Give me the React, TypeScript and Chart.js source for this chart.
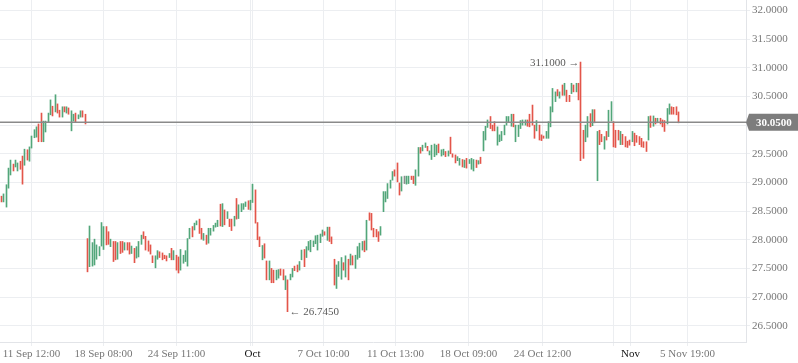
import React, { useEffect, useRef } from "react";
import { Chart, registerables } from "chart.js";

Chart.register(...registerables);

// ---- data (4h candles, high / low / direction) ----
const highs = [
  28.76, 28.80, 28.96, 29.25, 29.39, 29.32, 29.39, 29.34, 29.37, 29.46,
  29.58, 29.57, 29.62, 29.81, 29.92, 29.97, 30.02, 30.21, 30.07, 30.07,
  30.21, 30.44, 30.33, 30.53, 30.37, 30.26, 30.32, 30.32, 30.32, 30.30,
  30.25, 30.19, 30.21, 30.18, 30.25, 30.25, 30.19, 28.02, 28.24, 27.95,
  28.01, 27.91, 27.88, 28.30, 28.23, 28.23, 28.14, 28.01, 27.97, 27.97,
  27.95, 27.97, 27.97, 27.95, 27.95, 27.95, 27.89, 27.85, 27.88, 27.97,
  28.08, 28.14, 28.06, 27.98, 27.91, 27.72, 27.72, 27.81, 27.79, 27.77,
  27.73, 27.72, 27.76, 27.85, 27.81, 27.73, 27.70, 27.83, 27.73, 27.81,
  28.02, 28.20, 28.23, 28.29, 28.33, 28.36, 28.20, 28.11, 28.08, 28.20,
  28.20, 28.25, 28.29, 28.34, 28.62, 28.63, 28.52, 28.49, 28.36, 28.36,
  28.41, 28.72, 28.61, 28.63, 28.63, 28.66, 28.68, 28.69, 28.97, 28.87,
  28.30, 28.05, 27.90, 27.93, 27.63, 27.63, 27.50, 27.47, 27.47, 27.48,
  27.49, 27.48, 27.37, 27.30, 27.40, 27.50, 27.54, 27.56, 27.62, 27.82,
  27.83, 27.88, 27.97, 27.99, 27.98, 28.07, 28.08, 28.10, 28.17, 28.14,
  28.22, 28.22, 28.05, 27.66, 27.56, 27.62, 27.69, 27.60, 27.72, 27.66,
  27.75, 27.72, 27.73, 27.88, 27.94, 27.97, 27.98, 28.34, 28.47, 28.46,
  28.20, 28.18, 28.14, 28.23, 28.84, 28.84, 28.98, 29.04, 29.19, 29.22,
  29.34, 28.99, 29.10, 29.11, 29.11, 29.11, 29.11, 29.11, 29.22, 29.61,
  29.61, 29.65, 29.69, 29.63, 29.55, 29.65, 29.67, 29.65, 29.67, 29.57,
  29.58, 29.54, 29.55, 29.79, 29.50, 29.48, 29.45, 29.42, 29.40, 29.39,
  29.42, 29.40, 29.42, 29.40, 29.39, 29.38, 29.44, 29.89, 29.98, 30.09,
  30.15, 30.00, 30.06, 29.97, 29.83, 29.89, 30.00, 30.15, 30.15, 30.19,
  30.19, 30.00, 30.00, 30.08, 30.09, 30.09, 30.09, 30.19, 30.35, 30.00,
  30.08, 30.00, 29.83, 29.81, 29.89, 30.06, 30.32, 30.64, 30.58, 30.62,
  30.58, 30.70, 30.73, 30.61, 30.52, 30.73, 30.70, 30.73, 30.73, 31.10,
  29.91, 30.00, 30.15, 30.20, 30.27, 30.27, 29.89, 29.91, 29.84, 29.80,
  29.89, 30.26, 30.41, 30.06, 29.91, 29.91, 29.89, 29.84, 29.80, 29.72,
  29.74, 29.89, 29.86, 29.82, 29.80, 29.77, 29.71, 29.71, 30.15, 30.16,
  30.16, 30.12, 30.12, 30.12, 30.09, 30.08, 30.29, 30.37, 30.32, 30.31,
  30.32, 30.23,
];

const lows = [
  28.66, 28.66, 28.57, 28.90, 29.13, 29.20, 29.27, 29.20, 29.23, 28.97,
  29.30, 29.39, 29.37, 29.60, 29.78, 29.79, 29.71, 29.71, 29.71, 29.88,
  30.05, 30.18, 30.16, 30.23, 30.21, 30.14, 30.14, 30.23, 30.21, 30.19,
  29.90, 30.07, 30.05, 30.11, 30.14, 30.14, 30.02, 27.44, 27.53, 27.54,
  27.56, 27.66, 27.72, 27.89, 27.83, 27.91, 27.92, 27.88, 27.62, 27.65,
  27.66, 27.76, 27.78, 27.82, 27.82, 27.75, 27.76, 27.60, 27.68, 27.70,
  27.92, 28.02, 27.82, 27.80, 27.75, 27.60, 27.51, 27.66, 27.69, 27.65,
  27.67, 27.63, 27.69, 27.65, 27.65, 27.47, 27.42, 27.47, 27.59, 27.62,
  27.54, 28.02, 28.05, 28.17, 28.26, 28.11, 28.01, 27.99, 27.92, 27.94,
  28.08, 28.15, 28.22, 28.23, 28.24, 28.23, 28.26, 28.37, 28.23, 28.16,
  28.24, 28.36, 28.37, 28.49, 28.53, 28.58, 28.53, 28.52, 28.65, 28.29,
  28.00, 27.88, 27.65, 27.68, 27.30, 27.30, 27.25, 27.25, 27.30, 27.33,
  27.38, 27.30, 27.13, 26.745, 27.30, 27.35, 27.46, 27.44, 27.47, 27.65,
  27.53, 27.69, 27.82, 27.79, 27.88, 27.93, 27.82, 27.95, 28.06, 28.08,
  27.99, 27.97, 27.93, 27.21, 27.15, 27.36, 27.31, 27.47, 27.35, 27.30,
  27.56, 27.56, 27.50, 27.66, 27.69, 27.82, 27.79, 27.82, 28.34, 28.17,
  28.05, 28.05, 27.97, 28.08, 28.49, 28.66, 28.72, 28.90, 29.04, 29.11,
  29.01, 28.78, 28.85, 28.98, 28.97, 28.98, 29.05, 28.98, 28.95, 29.11,
  29.51, 29.55, 29.61, 29.55, 29.48, 29.40, 29.45, 29.48, 29.52, 29.46,
  29.48, 29.45, 29.46, 29.50, 29.44, 29.34, 29.38, 29.30, 29.27, 29.26,
  29.25, 29.33, 29.23, 29.20, 29.26, 29.32, 29.33, 29.55, 29.74, 29.96,
  29.94, 29.90, 29.90, 29.65, 29.71, 29.73, 29.83, 30.00, 30.06, 29.98,
  29.97, 29.71, 29.80, 29.94, 30.00, 30.00, 29.98, 29.97, 30.00, 29.77,
  29.90, 29.74, 29.73, 29.77, 29.77, 29.77, 29.97, 30.23, 30.41, 30.51,
  30.47, 30.52, 30.52, 30.41, 30.41, 30.55, 30.58, 30.58, 30.44, 29.38,
  29.42, 29.71, 29.79, 29.97, 29.99, 30.04, 29.03, 29.66, 29.71, 29.58,
  29.74, 29.80, 30.07, 29.62, 29.61, 29.74, 29.66, 29.66, 29.62, 29.61,
  29.65, 29.71, 29.64, 29.70, 29.66, 29.62, 29.61, 29.54, 29.74, 29.96,
  29.98, 30.02, 30.04, 30.02, 29.97, 29.89, 30.02, 30.19, 30.19, 30.19,
  30.18, 30.04,
];

// u = up (green), d = down (red), n = unchanged (grey); 10 candles per chunk
const directionChunks = [
  "duuuuduudd", "uduuuudduu", "uududdudud", "uuduuddduu", "uuuuuddudd",
  "uddudduduu", "uddddduudd", "ddududduuu", "uuduuddudu", "uuuudududd",
  "uduuuuduud", "dduddudduu", "dduduudduu", "duuuuuuuud", "uddduuudud",
  "uduuuududd", "ddduuuuuud", "ddunuudduu", "duuduuuudu", "ududdduudu",
  "duuududuuu", "ddduuuuuuu", "duuuuudddd", "uddduuuuud", "ududdududd",
  "duudududdu", "duuddduddd", "duddddddud", "ududdduudd", "dd",
];
const directions = directionChunks.join("").split("");

const lastPrice = 30.05;

const gridTickPos = [13, 44, 75.4, 106.8, 138.2, 169.5, 200.9, 232.3, 263.2, 294.6];
const gridTickLabels = [
  "11 Sep 12:00", "18 Sep 08:00", "24 Sep 11:00", "", "7 Oct 10:00",
  "11 Oct 13:00", "18 Oct 09:00", "24 Oct 12:00", "", "5 Nov 19:00",
];
const monthTickPos = [107.8, 270.5];
const monthTickLabels = ["Oct", "Nov"];
const yTickValues = [26.5, 27, 27.5, 28, 28.5, 29, 29.5, 30, 30.5, 31, 31.5, 32];

const GREEN = "#52a67a";
const RED = "#e3554a";
const GREY = "#8d8d8d";
const FONT = '"Liberation Serif", "Times New Roman", serif';

export default function App() {
  const ref = useRef<HTMLCanvasElement | null>(null);

  useEffect(() => {
    document.body.style.margin = "0";
    const canvas = ref.current;
    if (!canvas) return;

    const xTicks = [
      ...gridTickPos.map((v, k) => ({ value: v, label: gridTickLabels[k], major: false })),
      ...monthTickPos.map((v, k) => ({ value: v, label: monthTickLabels[k], major: true })),
    ].sort((a, b) => a.value - b.value);

    const n = highs.length;
    const data = highs.map((h, i) => ({ x: i, y: [lows[i], h] }));
    const colors = highs.map((_, i) =>
      directions[i] === "u" ? GREEN : directions[i] === "d" ? RED : GREY
    );

    // snap x positions to pixel centres so 1px candles stay crisp
    const snap = {
      id: "snap",
      afterLayout(chart: any) {
        const s = chart.scales.x;
        if (s && !s.__snapped) {
          const orig = s.getPixelForValue.bind(s);
          s.getPixelForValue = (v: any, i?: any) => Math.round(orig(v, i) - 0.5) + 0.5;
          s.__snapped = true;
        }
      },
    };

    const overlay = {
      id: "overlay",
      afterDraw(chart: any) {
        const ctx = chart.ctx;
        const xs = chart.scales.x;
        const ys = chart.scales.y;
        const area = chart.chartArea;
        ctx.save();
        // current price line
        const py = ys.getPixelForValue(lastPrice);
        ctx.strokeStyle = "#8a8a8a";
        ctx.lineWidth = 1.5;
        ctx.beginPath();
        ctx.moveTo(area.left, py);
        ctx.lineTo(area.right, py);
        ctx.stroke();
        // price tag
        ctx.fillStyle = "#7d7d7d";
        ctx.beginPath();
        ctx.moveTo(area.right, py);
        ctx.lineTo(area.right + 3, py - 8.5);
        ctx.lineTo(chart.width, py - 8.5);
        ctx.lineTo(chart.width, py + 8.5);
        ctx.lineTo(area.right + 3, py + 8.5);
        ctx.closePath();
        ctx.fill();
        ctx.fillStyle = "#ffffff";
        ctx.font = `bold 11px ${FONT}`;
        ctx.textAlign = "left";
        ctx.textBaseline = "middle";
        ctx.fillText(lastPrice.toFixed(4), area.right + 10, py + 0.5);

        // max / min annotations
        let hiIdx = 0;
        let loIdx = 0;
        for (let i = 0; i < n; i++) {
          if (highs[i] > highs[hiIdx]) hiIdx = i;
          if (lows[i] < lows[loIdx]) loIdx = i;
        }
        ctx.fillStyle = "#5a5a5a";
        ctx.font = `11px ${FONT}`;
        const hx = xs.getPixelForValue(hiIdx);
        const hy = ys.getPixelForValue(highs[hiIdx]);
        ctx.textAlign = "right";
        ctx.fillText(highs[hiIdx].toFixed(4) + " \u2192", hx - 1, hy + 1);
        const lx = xs.getPixelForValue(loIdx);
        const ly = ys.getPixelForValue(lows[loIdx]);
        ctx.textAlign = "left";
        ctx.fillText("\u2190 " + lows[loIdx].toFixed(4), lx + 2, ly + 0.5);
        ctx.restore();
      },
    };

    const chart = new Chart(canvas, {
      type: "bar",
      data: {
        datasets: [
          {
            data: data as any,
            backgroundColor: colors,
            borderWidth: 0,
            barThickness: 1,
            borderSkipped: false,
          } as any,
        ],
      },
      options: {
        animation: false,
        responsive: false,
        maintainAspectRatio: false,
        devicePixelRatio: 1,
        layout: { padding: 0 },
        plugins: { legend: { display: false }, tooltip: { enabled: false } },
        scales: {
          x: {
            type: "linear",
            min: -0.645,
            max: 319.95,
            offset: false,
            grid: { color: "#eceef1", tickLength: 4, offset: false },
            border: { display: true, color: "#e2e4e8" },
            afterBuildTicks: (s: any) => {
              s.ticks = xTicks.map((t) => ({ value: t.value, major: t.major }));
            },
            afterFit: (s: any) => {
              s.height = 21;
              s.paddingLeft = 0;
              s.paddingRight = 0;
            },
            ticks: {
              autoSkip: false,
              maxRotation: 0,
              minRotation: 0,
              padding: 2,
              font: { family: FONT, size: 11 },
              color: (c: any) => (xTicks[c.index] && xTicks[c.index].major ? "#111111" : "#777777"),
              callback: (_v: any, idx: number) => (xTicks[idx] ? xTicks[idx].label : ""),
            },
          } as any,
          y: {
            type: "linear",
            position: "right",
            min: 26.216,
            max: 32.183,
            grid: { color: "#eceef1", tickLength: 4 },
            border: { display: true, color: "#e2e4e8" },
            afterBuildTicks: (s: any) => {
              s.ticks = yTickValues.map((v) => ({ value: v }));
            },
            afterFit: (s: any) => {
              s.width = 52;
              s.paddingTop = 0;
              s.paddingBottom = 0;
            },
            ticks: {
              padding: 2,
              font: { family: FONT, size: 11 },
              color: "#777777",
              callback: (v: any) => Number(v).toFixed(4),
            },
          } as any,
        },
      },
      plugins: [snap, overlay],
    });

    return () => chart.destroy();
  }, []);

  return (
    <div style={{ width: 798, height: 363, position: "relative" }}>
      <canvas ref={ref} width={798} height={363} style={{ display: "block" }} />
    </div>
  );
}
